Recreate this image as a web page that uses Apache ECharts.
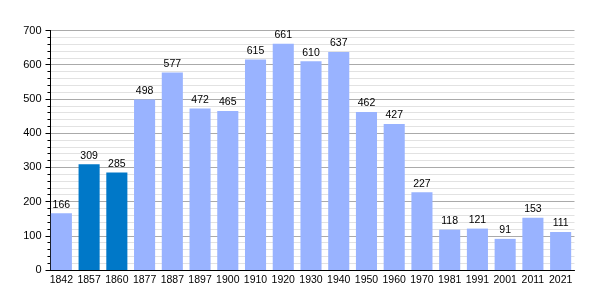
<!DOCTYPE html>
<html><head><meta charset="utf-8">
<script src="https://cdn.jsdelivr.net/npm/echarts@6/dist/echarts.min.js"></script>
<style>html,body{margin:0;padding:0;background:#fff}#c{width:600px;height:300px}</style>
</head><body><div id="c"></div>
<script>
const years = ['1842','1857','1860','1877','1887','1897','1900','1910','1920','1930','1940','1950','1960','1970','1981','1991','2001','2011','2021'];
const population = [166,309,285,498,577,472,465,615,661,610,637,462,427,227,118,121,91,153,111];
const highlighted = ['1857','1860'];
const yTicks = [0,100,200,300,400,500,600,700];

const chart = echarts.init(document.getElementById('c'), null, {renderer:'canvas'});
chart.setOption({
  animation:false,
  textStyle:{fontFamily:'Liberation Sans, Arial, sans-serif'},
  grid:{left:47.5,right:25.5,top:30.5,bottom:30,containLabel:false},
  xAxis:{type:'category',data:years,
    axisLine:{lineStyle:{color:'#000',width:1}},
    axisTick:{show:false},
    axisLabel:{color:'#000',fontSize:10.5,margin:5,interval:0}},
  yAxis:{type:'value',min:yTicks[0],max:yTicks[yTicks.length-1],interval:100,offset:-3,
    axisLine:{show:true,lineStyle:{color:'#000'}},
    axisTick:{show:true,length:5,lineStyle:{color:'#000'}},
    minorTick:{show:true,splitNumber:5,length:3,lineStyle:{color:'#000'}},
    splitLine:{show:true,lineStyle:{color:'#aaa',width:1}},
    minorSplitLine:{show:true,lineStyle:{color:'#e2e2e2',width:1}},
    axisLabel:{color:'#000',fontSize:11,margin:9}},
  series:[{type:'bar',barCategoryGap:'24%',
    data:population.map((v,i)=>({value:v,itemStyle:{color:highlighted.includes(years[i])?'#0078c8':'#99b3ff'}})),
    label:{show:true,position:'top',color:'#000',fontSize:10.5,distance:3}}]
});
</script></body></html>
